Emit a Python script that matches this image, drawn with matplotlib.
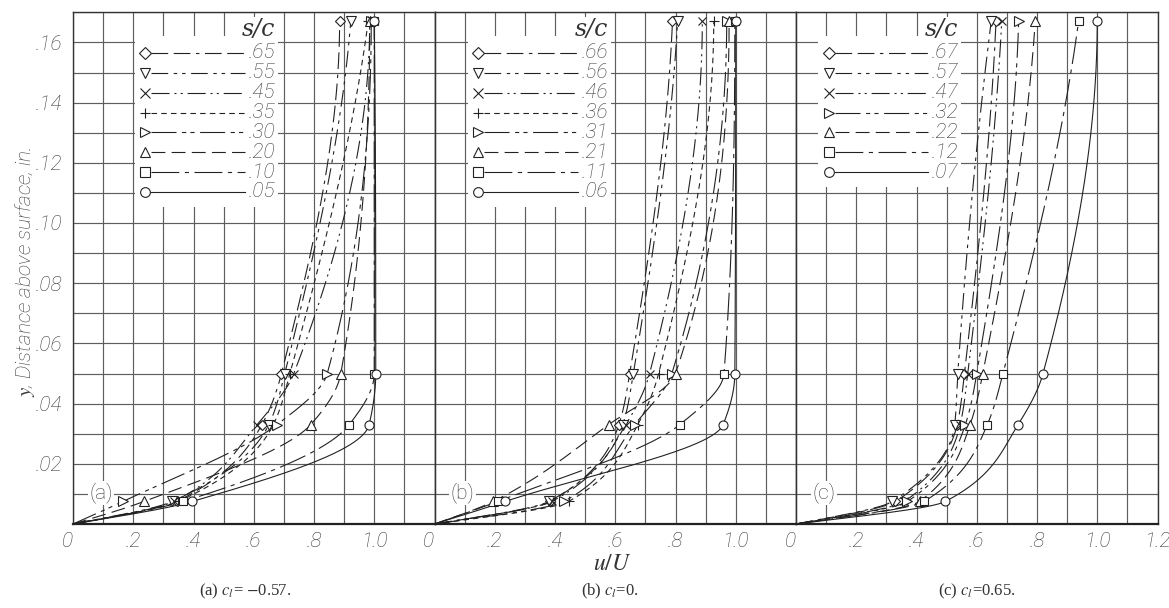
import numpy as np
import matplotlib.pyplot as plt
from matplotlib.patches import Rectangle

plt.rcParams['lines.scale_dashes'] = False
plt.rcParams['mathtext.fontset'] = 'stix'

# measurement heights above surface (in.), wall point first
y_levels = [0.0, 0.0075, 0.033, 0.050, 0.167]

# (a) c_l = -0.57
sc_a = ['.65', '.55', '.45', '.35', '.30', '.20', '.10', '.05']
sym_a = ['D', 'v', 'x', '+', '>', '^', 's', 'o']
u_a = [
    [0, 0.345, 0.627, 0.692, 0.885],
    [0, 0.330, 0.650, 0.703, 0.922],
    [0, 0.335, 0.611, 0.733, 0.985],
    [0, 0.350, 0.665, 0.720, 0.980],
    [0, 0.166, 0.677, 0.844, 0.990],
    [0, 0.236, 0.789, 0.889, 0.985],
    [0, 0.366, 0.917, 1.000, 1.000],
    [0, 0.396, 0.983, 1.005, 1.000],
]

# (b) c_l = 0
sc_b = ['.66', '.56', '.46', '.36', '.31', '.21', '.11', '.06']
sym_b = ['D', 'v', 'x', '+', '>', '^', 's', 'o']
u_b = [
    [0, 0.385, 0.612, 0.648, 0.790],
    [0, 0.380, 0.625, 0.660, 0.807],
    [0, 0.390, 0.635, 0.714, 0.889],
    [0, 0.445, 0.675, 0.744, 0.927],
    [0, 0.430, 0.664, 0.788, 0.970],
    [0, 0.195, 0.578, 0.800, 0.978],
    [0, 0.210, 0.814, 0.961, 0.997],
    [0, 0.235, 0.958, 0.997, 1.000],
]

# (c) c_l = 0.65
sc_c = ['.67', '.57', '.47', '.32', '.22', '.12', '.07']
sym_c = ['D', 'v', 'x', '>', '^', 's', 'o']
u_c = [
    [0, 0.330, 0.535, 0.559, 0.664],
    [0, 0.320, 0.527, 0.537, 0.648],
    [0, 0.360, 0.545, 0.570, 0.683],
    [0, 0.370, 0.562, 0.600, 0.739],
    [0, 0.410, 0.578, 0.620, 0.794],
    [0, 0.425, 0.635, 0.687, 0.938],
    [0, 0.496, 0.737, 0.820, 1.000],
]

panel_tags = ['(a)', '(b)', '(c)']
captions = [r'(a) $c_l$= $-$0.57.', r'(b) $c_l$=0.', r'(c) $c_l$=0.65.']
xtick_vals = [0, 0.2, 0.4, 0.6, 0.8, 1.0, 1.2]
xtick_txt = ['0', '.2', '.4', '.6', '.8', '1.0', '1.2']
ytick_vals = [0.02, 0.04, 0.06, 0.08, 0.10, 0.12, 0.14, 0.16]
ytick_txt = ['.02', '.04', '.06', '.08', '.10', '.12', '.14', '.16']

line_style = {
    'D': (0, (12, 4, 12, 4, 2.5, 4)),
    'v': (0, (12, 4, 2.5, 3.5, 2.5, 4)),
    'x': (0, (13, 3.5, 1.5, 3, 1.5, 3.5)),
    '+': (0, (4, 3)),
    '>': (0, (18, 4, 3, 3, 3, 4)),
    '^': (0, (10, 4.5)),
    's': (0, (20, 4, 3, 4)),
    'o': '-',
}
mark_size = {'D': 5.5, 'v': 6.5, 'x': 6, '+': 7, '>': 6.5, '^': 6.5, 's': 6, 'o': 6.5}

tick_font = dict(family=['Roboto', 'DejaVu Sans'], style='italic', weight='light',
                 size=15, color='#3a3a3a')
ink = '#333333'


def pchip(x, y, xn):
    # monotone cubic fairing, like a draftsman's curve through the points
    x = np.asarray(x, float)
    y = np.asarray(y, float)
    h = np.diff(x)
    d = np.diff(y) / h
    n = len(x)
    m = np.zeros(n)
    for k in range(1, n - 1):
        if d[k - 1] * d[k] > 0:
            w1 = 2 * h[k] + h[k - 1]
            w2 = h[k] + 2 * h[k - 1]
            m[k] = (w1 + w2) / (w1 / d[k - 1] + w2 / d[k])

    def end(h0, h1, d0, d1):
        s = ((2 * h0 + h1) * d0 - h0 * d1) / (h0 + h1)
        if np.sign(s) != np.sign(d0):
            s = 0.0
        elif np.sign(d0) != np.sign(d1) and abs(s) > abs(3 * d0):
            s = 3 * d0
        return s

    m[0] = end(h[0], h[1], d[0], d[1])
    m[-1] = end(h[-1], h[-2], d[-1], d[-2])
    i = np.clip(np.searchsorted(x, xn) - 1, 0, n - 2)
    t = (xn - x[i]) / h[i]
    return ((2 * t**3 - 3 * t**2 + 1) * y[i] + (t**3 - 2 * t**2 + t) * h[i] * m[i]
            + (-2 * t**3 + 3 * t**2) * y[i + 1] + (t**3 - t**2) * h[i] * m[i + 1])


fig = plt.figure(figsize=(11.69, 6.08), dpi=100)
W, H = 1169.0, 608.0
lefts = [73, 434.5, 796]
panels = [(u_a, sc_a, sym_a, 0.24), (u_b, sc_b, sym_b, 0.145), (u_c, sc_c, sym_c, 0.108)]

for p, (us, labels, syms, leg_x) in enumerate(panels):
    ax = fig.add_axes([lefts[p] / W, (H - 524) / H, 361.5 / W, 511.7 / H])
    ax.set_xlim(0, 1.2)
    ax.set_ylim(0, 0.17)
    ax.set_xticks(np.arange(0, 1.201, 0.1), minor=True)
    ax.set_yticks(np.arange(0, 0.1701, 0.01), minor=True)
    ax.grid(which='both', color='#5e5e5e', lw=0.85)
    ax.set_axisbelow(True)
    ax.tick_params(which='both', length=0, pad=6)
    for s in ax.spines.values():
        s.set_color(ink)
        s.set_linewidth(1.0)
    ax.spines['bottom'].set_linewidth(1.6)
    ax.spines['bottom'].set_color('#222222')

    nx = 7 if p == 2 else 6
    ax.set_xticks(xtick_vals[:nx])
    ax.set_xticklabels(xtick_txt[:nx], **tick_font)
    ax.get_xticklabels()[0].set_ha('right')
    ax.set_yticks(ytick_vals)
    if p == 0:
        ax.set_yticklabels(ytick_txt, **tick_font)
        ax.tick_params(axis='y', pad=8)
    else:
        ax.tick_params(labelleft=False)

    yy = np.linspace(0, y_levels[-1], 400)
    for u, sym in zip(us, syms):
        ax.plot(pchip(y_levels, u, yy), yy, color='#222222', lw=0.8,
                ls=line_style[sym], zorder=3)
        ax.plot(u[1:], y_levels[1:], ls='none', marker=sym, ms=mark_size[sym],
                mfc='white', mec='#222222', mew=0.8, zorder=4)

    # legend block, drawn like the original lettering
    row0, step = 0.1565, 0.0066
    right = leg_x + 0.43
    nrow = len(labels)
    ax.add_patch(Rectangle((leg_x - 0.035, row0 - (nrow - 1) * step - 0.005),
                           right + 0.045 - leg_x, (nrow - 1) * step + 0.0105,
                           facecolor='white', edgecolor='none', zorder=1.5))
    ax.text(right, 0.1642, 's/c', ha='right', va='center', fontsize=17,
            family='DejaVu Serif', style='italic', color='#333333', zorder=5,
            bbox=dict(facecolor='white', edgecolor='none', pad=1))
    for k, (lab, sym) in enumerate(zip(labels, syms)):
        yk = row0 - k * step
        ax.plot([leg_x + 0.02, right - 0.1], [yk, yk], color='#222222', lw=0.8,
                ls=line_style[sym], zorder=3)
        ax.plot([leg_x], [yk], ls='none', marker=sym, ms=mark_size[sym] + 0.5,
                mfc='white', mec='#222222', mew=0.8, zorder=4)
        ax.text(right, yk, lab, ha='right', va='center', zorder=5, **tick_font)

    ax.text(0.093, 0.0103, panel_tags[p], ha='center', va='center', fontsize=15,
            family=['Roboto', 'DejaVu Sans'], weight='light', color='#3a3a3a', zorder=5,
            bbox=dict(facecolor='white', edgecolor='none', pad=1))

    cx = [245, 610, 977][p]
    fig.text(cx / W, 1 - 591 / H, captions[p], ha='center', va='center',
             fontsize=12, family='Liberation Serif', color='#333333')

fig.text(25 / W, 1 - 272 / H, r'$y$, Distance above surface, in.', rotation=90,
         ha='center', va='center', **tick_font)
fig.text(612 / W, 1 - 563 / H, r'$u/U$', ha='center', va='center', fontsize=17,
         color='#333333')

fig.savefig('out.png', dpi=100, facecolor='white')
